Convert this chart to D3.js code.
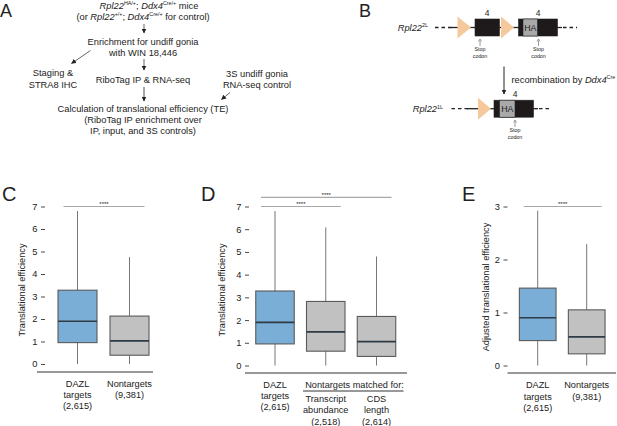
<!DOCTYPE html>
<html><head><meta charset="utf-8">
<script src="https://cdn.jsdelivr.net/npm/d3@7"></script>
<style>
body{margin:0;background:#fff}
svg{display:block}
text{font-family:"Liberation Sans",Arial,Helvetica,sans-serif;fill:#222}
</style>
</head><body>
<svg id="fig" width="617" height="426"></svg>
<script>
// ---------------- DATA ----------------
const cGroups = ["DAZL targets", "Nontargets"];
const cLabels = [["DAZL","targets","(2,615)"],["Nontargets","(9,381)"]];
const cMin = [0, 0];
const cQ1  = [0.95, 0.39];
const cMed = [1.90, 1.03];
const cQ3  = [3.28, 2.13];
const cMax = [6.80, 4.75];

const dGroups = ["DAZL targets", "Transcript abundance", "CDS length"];
const dLabels = [["DAZL","targets","(2,615)"],["Transcript","abundance","(2,518)"],["CDS","length","(2,614)"]];
const dMin = [0, 0, 0];
const dQ1  = [0.95, 0.63, 0.40];
const dMed = [1.90, 1.48, 1.05];
const dQ3  = [3.28, 2.82, 2.16];
const dMax = [6.80, 6.08, 4.80];

const eGroups = ["DAZL targets", "Nontargets"];
const eLabels = [["DAZL","targets","(2,615)"],["Nontargets","(9,381)"]];
const eMin = [0, 0];
const eQ1  = [0.47, 0.22];
const eMed = [0.90, 0.54];
const eQ3  = [1.46, 1.05];
const eMax = [2.92, 2.29];

const teTicks = [0, 1, 2, 3, 4, 5, 6, 7];
const adjTicks = [0, 1, 2, 3];
const boxColors = ["#7aaed6", "#c1c1c1", "#c1c1c1"];

// ---------------- HELPERS ----------------
const svg = d3.select("#fig");

function richText(g, x, y, segs, size, anchor) {
  const t = g.append("text").attr("x", x).attr("y", y)
    .attr("font-size", size).attr("text-anchor", anchor || "middle");
  let shifted = false;
  segs.forEach(s => {
    const sp = t.append("tspan").text(s.t);
    if (s.i) sp.attr("font-style", "italic");
    if (s.sup) {
      sp.attr("font-size", size * 0.58).attr("dy", shifted ? 0 : -size * 0.38);
      shifted = true;
    } else if (shifted) {
      sp.attr("dy", size * 0.38); shifted = false;
    }
  });
  return t;
}

const defs = svg.append("defs");
defs.append("marker").attr("id", "ah").attr("viewBox", "0 0 10 10")
  .attr("refX", 9).attr("refY", 5).attr("markerWidth", 5).attr("markerHeight", 5)
  .attr("orient", "auto-start-reverse").attr("markerUnits", "userSpaceOnUse")
  .append("path").attr("d", "M0,0 L10,5 L0,10 Z").attr("fill", "#222");

function arrow(g, x1, y1, x2, y2, w) {
  g.append("line").attr("x1", x1).attr("y1", y1).attr("x2", x2).attr("y2", y2)
    .attr("stroke", "#222").attr("stroke-width", w || 0.8).attr("marker-end", "url(#ah)");
}

function letter(txt, x, y, size) {
  svg.append("text").attr("x", x).attr("y", y).attr("font-size", size || 20).text(txt);
}

// ---------------- PANEL A ----------------
const A = svg.append("g");
letter("A", 0, 16.5, 18);
const fa = 9.3, cx = 143;
richText(A, cx + 6, 9, [{t:"Rpl22",i:true},{t:"HA/+",sup:true},{t:"; "},{t:"Ddx4",i:true},{t:"Cre/+",sup:true},{t:" mice"}], fa);
richText(A, cx, 20, [{t:"(or "},{t:"Rpl22",i:true},{t:"+/+",sup:true},{t:"; "},{t:"Ddx4",i:true},{t:"Cre/+",sup:true},{t:" for control)"}], fa);
arrow(A, cx + 1, 24, cx + 1, 33, 0.7);
richText(A, cx, 45, [{t:"Enrichment for undiff gonia"}], fa);
richText(A, cx, 56, [{t:"with WIN 18,446"}], fa);
arrow(A, 90.5, 50.5, 71.5, 63.5, 0.7);
arrow(A, cx + 1, 59, cx + 1, 70, 0.7);
richText(A, 53, 76, [{t:"Staging &"}], fa);
richText(A, 53, 87.5, [{t:"STRA8 IHC"}], fa);
richText(A, cx, 83, [{t:"RiboTag IP & RNA-seq"}], fa);
richText(A, 257, 76.5, [{t:"3S undiff gonia"}], fa);
richText(A, 257, 87.5, [{t:"RNA-seq control"}], fa);
arrow(A, cx + 1, 87, cx + 1, 101, 0.8);
arrow(A, 230, 92.5, 221.5, 99.5, 0.7);
richText(A, cx, 111.5, [{t:"Calculation of translational efficiency (TE)"}], fa);
richText(A, cx, 122.5, [{t:"(RiboTag IP enrichment over"}], fa);
richText(A, cx, 134, [{t:"IP, input, and 3S controls)"}], fa);

// ---------------- PANEL B ----------------
const B = svg.append("g");
letter("B", 359, 16.5, 18);
const peach = "#f5c99c";
function gene(g, yc, parts) {
  parts.forEach(p => {
    if (p.type === "dash") g.append("line").attr("x1", p.x1).attr("x2", p.x2).attr("y1", yc).attr("y2", yc)
      .attr("stroke", "#222").attr("stroke-width", 1.3).attr("stroke-dasharray", "3.5,3");
    if (p.type === "line") g.append("line").attr("x1", p.x1).attr("x2", p.x2).attr("y1", yc).attr("y2", yc)
      .attr("stroke", "#222").attr("stroke-width", 1.3);
    if (p.type === "tri") g.append("path")
      .attr("d", `M${p.x1},${yc - 11} L${p.x2},${yc} L${p.x1},${yc + 11} Z`).attr("fill", peach);
    if (p.type === "box") g.append("rect").attr("x", p.x1).attr("y", yc - 8.5).attr("width", p.x2 - p.x1)
      .attr("height", 17).attr("fill", p.fill).attr("stroke", "#222").attr("stroke-width", 0.6);
    if (p.type === "ha") g.append("text").attr("x", (p.x1 + p.x2) / 2).attr("y", yc + 3.3)
      .attr("text-anchor", "middle").attr("font-size", 8.8).text("HA");
  });
}
function stop(g, x, y) {
  g.append("line").attr("x1", x).attr("x2", x).attr("y1", y + 7).attr("y2", y + 1.5).attr("stroke", "#333").attr("stroke-width", 0.5);
  g.append("path").attr("d", `M${x - 1.5},${y + 2.5} L${x},${y} L${x + 1.5},${y + 2.5}`).attr("fill", "none").attr("stroke", "#333").attr("stroke-width", 0.5);
  g.append("text").attr("x", x).attr("y", y + 12).attr("text-anchor", "middle").attr("font-size", 5.3).text("Stop");
  g.append("text").attr("x", x).attr("y", y + 18.5).attr("text-anchor", "middle").attr("font-size", 5.3).text("codon");
}
// top allele
const yt = 27.5;
richText(B, 428, yt + 3.5, [{t:"Rpl22",i:true},{t:"2L",sup:true}], 9.3, "end");
gene(B, yt, [
  {type:"dash", x1:435, x2:452}, {type:"line", x1:451, x2:476},
  {type:"tri", x1:457.5, x2:471}, {type:"box", x1:475, x2:499.5, fill:"#1e1a1b"},
  {type:"line", x1:499, x2:519}, {type:"tri", x1:501, x2:514},
  {type:"box", x1:518.5, x2:557.5, fill:"#1e1a1b"},
  {type:"box", x1:523, x2:537.5, fill:"#a9a9a9"}, {type:"ha", x1:523, x2:537.5},
  {type:"line", x1:557, x2:562}, {type:"dash", x1:563, x2:577}
]);
B.append("text").attr("x", 487).attr("y", 15.5).attr("text-anchor", "middle").attr("font-size", 8.5).text("4");
B.append("text").attr("x", 538).attr("y", 15.5).attr("text-anchor", "middle").attr("font-size", 8.5).text("4");
stop(B, 480, 39);
stop(B, 538.5, 39);
arrow(B, 504, 66.5, 504, 94, 1);
richText(B, 511.5, 83, [{t:"recombination by "},{t:"Ddx4",i:true},{t:"Cre",sup:true}], 9.3, "start");
// bottom allele
const yb = 108.7;
richText(B, 443, yb + 3.5, [{t:"Rpl22",i:true},{t:"1L",sup:true}], 9.3, "end");
gene(B, yb, [
  {type:"dash", x1:451.5, x2:468}, {type:"line", x1:467, x2:495},
  {type:"tri", x1:478, x2:491}, {type:"box", x1:494, x2:533.5, fill:"#1e1a1b"},
  {type:"box", x1:499.5, x2:515, fill:"#a9a9a9"}, {type:"ha", x1:499.5, x2:515},
  {type:"line", x1:533, x2:538}, {type:"dash", x1:539, x2:552}
]);
B.append("text").attr("x", 515).attr("y", 96.5).attr("text-anchor", "middle").attr("font-size", 8.5).text("4");
stop(B, 515, 120);

// ---------------- BOX PANELS ----------------
function boxPanel(o) {
  const g = svg.append("g");
  const x = d3.scalePoint().domain(o.groups).range(o.xr);
  const y = d3.scaleLinear().domain([0, o.ticks[o.ticks.length - 1]]).range(o.yr);
  const w = o.bw;
  const ax = g.append("g").attr("transform", `translate(${o.axisX},0)`)
    .call(d3.axisLeft(y).tickValues(o.ticks).tickSize(4).tickPadding(3.5).tickFormat(d3.format("d")));
  ax.select(".domain").remove();
  ax.selectAll("line").attr("stroke", "#333").attr("stroke-width", 0.9);
  ax.selectAll("text").attr("font-size", 9.3).attr("fill", "#222")
    .attr("font-family", '"Liberation Sans",Arial,sans-serif');
  g.append("text").attr("transform", `translate(${o.labelX},${o.labelY}) rotate(-90)`)
    .attr("text-anchor", "middle").attr("font-size", 9.2).text(o.label);
  const idx = d3.range(o.groups.length);
  g.selectAll(".wh").data(idx).join("line")
    .attr("x1", i => x(o.groups[i])).attr("x2", i => x(o.groups[i]))
    .attr("y1", i => y(o.min[i])).attr("y2", i => y(o.max[i]))
    .attr("stroke", "#777").attr("stroke-width", 1);
  g.selectAll(".bx").data(idx).join("rect")
    .attr("x", i => x(o.groups[i]) - w / 2).attr("width", w)
    .attr("y", i => y(o.q3[i])).attr("height", i => y(o.q1[i]) - y(o.q3[i]))
    .attr("fill", i => boxColors[i]).attr("stroke", "#5a5a5a").attr("stroke-width", 1.1);
  g.selectAll(".md").data(idx).join("line")
    .attr("x1", i => x(o.groups[i]) - w / 2).attr("x2", i => x(o.groups[i]) + w / 2)
    .attr("y1", i => y(o.med[i])).attr("y2", i => y(o.med[i]))
    .attr("stroke", "#2e3a44").attr("stroke-width", 1.6);
  g.append("line").attr("x1", o.base[0]).attr("x2", o.base[1]).attr("y1", o.base[2]).attr("y2", o.base[2])
    .attr("stroke", "#333").attr("stroke-width", 1.2);
  o.sig.forEach(s => {
    const x1 = x(o.groups[s[0]]) - 14, x2 = x(o.groups[s[1]]) + 15, yy = y(s[2]);
    g.append("line").attr("x1", x1).attr("x2", x2).attr("y1", yy).attr("y2", yy)
      .attr("stroke", "#a8a8a8").attr("stroke-width", 1.2);
    g.append("text").attr("x", (x1 + x2) / 2).attr("y", yy - 0.5).attr("text-anchor", "middle")
      .attr("font-size", 6).attr("fill", "#555").text("****");
  });
  o.labels.forEach((lines, i) => {
    lines.forEach((l, k) => {
      g.append("text").attr("x", x(o.groups[i])).attr("y", o.labelTop + k * o.lh)
        .attr("text-anchor", "middle").attr("font-size", 9.2).text(l);
    });
  });
  return {g, x, y};
}

letter("C", 2, 201);
boxPanel({groups:cGroups, labels:cLabels, min:cMin, q1:cQ1, med:cMed, q3:cQ3, max:cMax,
  xr:[77.5, 129.5], bw:39, yr:[364, 206.5], ticks:teTicks, axisX:45,
  label:"Translational efficiency", labelX:25, labelY:290,
  base:[37, 153, 372], sig:[[0, 1, 7]], labelTop:386.5, lh:11});

letter("D", 201, 201);
const D = boxPanel({groups:dGroups, labels:[dLabels[0]], min:dMin, q1:dQ1, med:dMed, q3:dQ3, max:dMax,
  xr:[275, 376.5], bw:38.5, yr:[365.5, 206.5], ticks:teTicks, axisX:249,
  label:"Translational efficiency", labelX:225, labelY:290,
  base:[245, 407, 373], sig:[[0, 1, 7], [0, 2, 7.4]], labelTop:387.5, lh:11.2});
D.g.append("text").attr("x", 354.5).attr("y", 388).attr("text-anchor", "middle").attr("font-size", 9.2).text("Nontargets matched for:");
D.g.append("line").attr("x1", 303).attr("x2", 403.5).attr("y1", 391).attr("y2", 391).attr("stroke", "#333").attr("stroke-width", 1);
[1, 2].forEach(i => dLabels[i].forEach((l, k) => {
  D.g.append("text").attr("x", D.x(dGroups[i])).attr("y", 402 + k * 11.3).attr("text-anchor", "middle").attr("font-size", 9.2).text(l);
}));

letter("E", 462, 201);
boxPanel({groups:eGroups, labels:eLabels, min:eMin, q1:eQ1, med:eMed, q3:eQ3, max:eMax,
  xr:[537.7, 586.7], bw:36.7, yr:[365.5, 206.5], ticks:adjTicks, axisX:507.5,
  label:"Adjusted translational efficiency", labelX:489, labelY:287,
  base:[507.5, 616, 373], sig:[[0, 1, 3]], labelTop:388.3, lh:11.3});
</script>
</body></html>
